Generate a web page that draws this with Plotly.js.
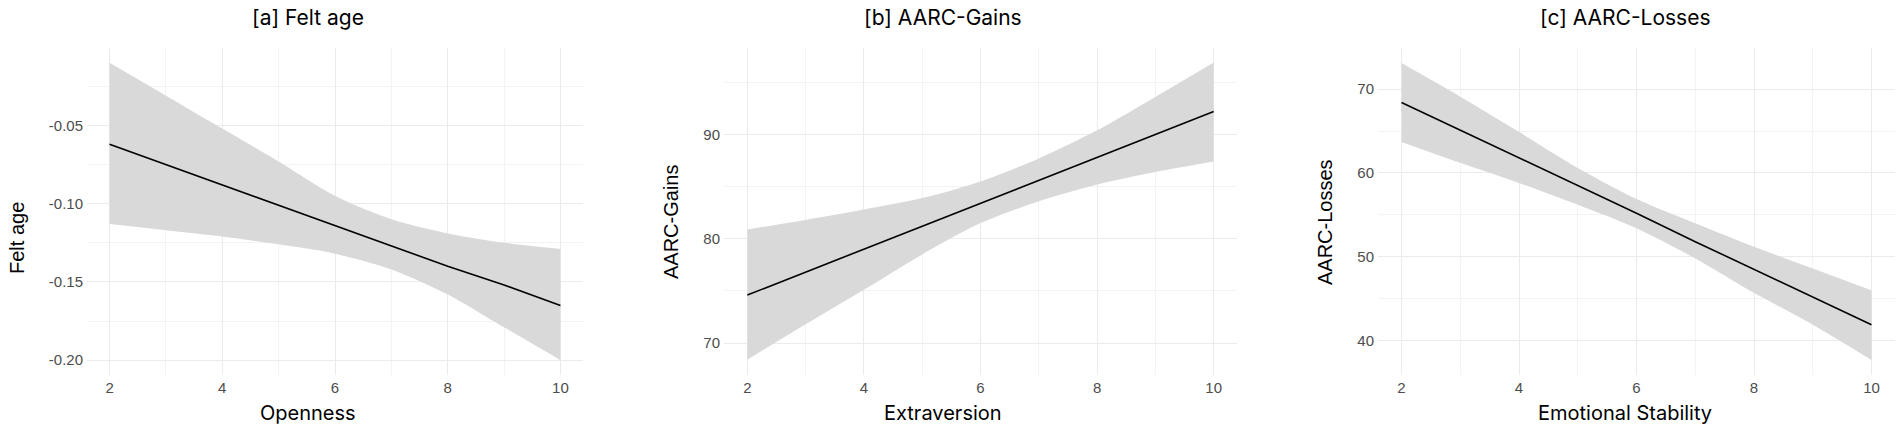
<!DOCTYPE html>
<html>
<head>
<meta charset="utf-8">
<script src="https://cdn.plot.ly/plotly-3.0.1.min.js"></script>
<style>
  html, body { margin: 0; padding: 0; background: #fff; }
  #plot1 { width: 1902px; height: 433px; }
</style>
</head>
<body>
<div id="plot1"></div>
<script>
  // trait score (same grid for all three panels)
  var traitX = [2, 3, 4, 5, 6, 7, 8, 9, 10];

  // [a] felt age ~ openness
  var feltAgeFit   = [-0.062, -0.075, -0.088, -0.101, -0.114, -0.127, -0.140, -0.152, -0.165];
  var feltAgeUpper = [-0.010, -0.031, -0.052, -0.073, -0.095, -0.110, -0.119, -0.125, -0.129];
  var feltAgeLower = [-0.113, -0.117, -0.121, -0.126, -0.132, -0.142, -0.158, -0.179, -0.200];

  // [b] AARC gains ~ extraversion
  var gainsFit   = [74.6, 76.8, 79.0, 81.2, 83.4, 85.6, 87.8, 90.0, 92.2];
  var gainsUpper = [80.9, 81.8, 82.8, 83.9, 85.5, 87.7, 90.4, 93.6, 96.9];
  var gainsLower = [68.4, 71.8, 75.1, 78.5, 81.5, 83.6, 85.2, 86.4, 87.4];

  // [c] AARC losses ~ emotional stability
  var lossesFit   = [68.4, 65.1, 61.8, 58.5, 55.2, 51.8, 48.5, 45.2, 41.9];
  var lossesUpper = [73.1, 69.1, 64.9, 60.6, 56.9, 54.0, 51.2, 48.6, 46.0];
  var lossesLower = [63.7, 61.2, 58.8, 56.2, 53.4, 49.8, 45.7, 41.9, 37.7];

  var panelTitles = ['[a] Felt age', '[b] AARC-Gains', '[c] AARC-Losses'];
  var xTitles = ['Openness', 'Extraversion', 'Emotional Stability'];
  var yTitles = ['Felt age', 'AARC-Gains', 'AARC-Losses'];

  var W = 1902, H = 433;
  var bandColor = '#d9d9d9';
  var tickFont = {family: 'Liberation Sans, Arial, sans-serif', size: 15, color: '#4d4d4d'};
  var titleFamily = 'Inter, Liberation Sans, sans-serif';

  function band(lo, hi, fit, ax) {
    var xa = 'x' + ax, ya = 'y' + ax;
    return [
      {x: traitX, y: lo, xaxis: xa, yaxis: ya, type: 'scatter', mode: 'lines',
       line: {width: 0, shape: 'spline', smoothing: 0.8}, hoverinfo: 'skip', showlegend: false},
      {x: traitX, y: hi, xaxis: xa, yaxis: ya, type: 'scatter', mode: 'lines',
       line: {width: 0, shape: 'spline', smoothing: 0.8}, fill: 'tonexty', fillcolor: bandColor,
       hoverinfo: 'skip', showlegend: false},
      {x: traitX, y: fit, xaxis: xa, yaxis: ya, type: 'scatter', mode: 'lines',
       line: {color: '#000', width: 1.6}, showlegend: false}
    ];
  }

  var data = [].concat(
    band(feltAgeLower, feltAgeUpper, feltAgeFit, ''),
    band(gainsLower, gainsUpper, gainsFit, '2'),
    band(lossesLower, lossesUpper, lossesFit, '3')
  );

  // plot areas in pixels (left, right)
  var px = [[87, 583], [724, 1237], [1378, 1895]];
  var yDom = [1 - 375 / H, 1 - 48 / H];
  var yRanges = [[-0.2095, -0.0005], [66.93, 98.3], [35.9, 74.9]];
  var yTicks = [[-0.20, -0.15, -0.10, -0.05], [70, 80, 90], [40, 50, 60, 70]];
  var yTickText = [['-0.20', '-0.15', '-0.10', '-0.05'], ['70', '80', '90'], ['40', '50', '60', '70']];
  var yMinor = [0.025, 5, 5];

  var layout = {
    width: W, height: H,
    margin: {l: 0, r: 0, t: 0, b: 0},
    paper_bgcolor: '#fff', plot_bgcolor: '#fff',
    showlegend: false,
    annotations: []
  };

  for (var i = 0; i < 3; i++) {
    var sfx = i === 0 ? '' : String(i + 1);
    layout['xaxis' + sfx] = {
      domain: [px[i][0] / W, px[i][1] / W],
      anchor: 'y' + sfx,
      range: [1.6, 10.4],
      tickvals: [2, 4, 6, 8, 10],
      tickfont: tickFont,
      ticks: '', ticklabelstandoff: 2,
      showline: false, zeroline: false,
      showgrid: true, gridcolor: '#ebebeb', gridwidth: 1,
      minor: {tickvals: [3, 5, 7, 9], showgrid: true, gridcolor: '#f3f3f3', gridwidth: 1}
    };
    layout['yaxis' + sfx] = {
      domain: yDom,
      anchor: 'x' + sfx,
      range: yRanges[i],
      tickvals: yTicks[i],
      ticktext: yTickText[i],
      tickfont: tickFont,
      ticks: '', ticklabelstandoff: 3,
      showline: false, zeroline: false,
      showgrid: true, gridcolor: '#ebebeb', gridwidth: 1,
      minor: {dtick: yMinor[i], showgrid: true, gridcolor: '#f3f3f3', gridwidth: 1}
    };
  }

  var titleX = [308, 943, 1625];
  var yTitleX = [17, 671, 1325];
  var yTitleY = [238, 222, 222];
  for (var j = 0; j < 3; j++) {
    layout.annotations.push({
      text: panelTitles[j], xref: 'paper', yref: 'paper',
      x: titleX[j] / W, y: 1 - 18 / H, xanchor: 'center', yanchor: 'middle',
      showarrow: false, font: {family: titleFamily, size: 21, color: '#000'}
    });
    layout.annotations.push({
      text: xTitles[j], xref: 'paper', yref: 'paper',
      x: titleX[j] / W, y: 1 - 413 / H, xanchor: 'center', yanchor: 'middle',
      showarrow: false, font: {family: titleFamily, size: 20, color: '#000'}
    });
    layout.annotations.push({
      text: yTitles[j], xref: 'paper', yref: 'paper', textangle: -90,
      x: yTitleX[j] / W, y: 1 - yTitleY[j] / H, xanchor: 'center', yanchor: 'middle',
      showarrow: false, font: {family: 'Liberation Sans, Arial, sans-serif', size: 20, color: '#000'}
    });
  }

  Plotly.newPlot('plot1', data, layout, {staticPlot: true});
</script>
</body>
</html>
